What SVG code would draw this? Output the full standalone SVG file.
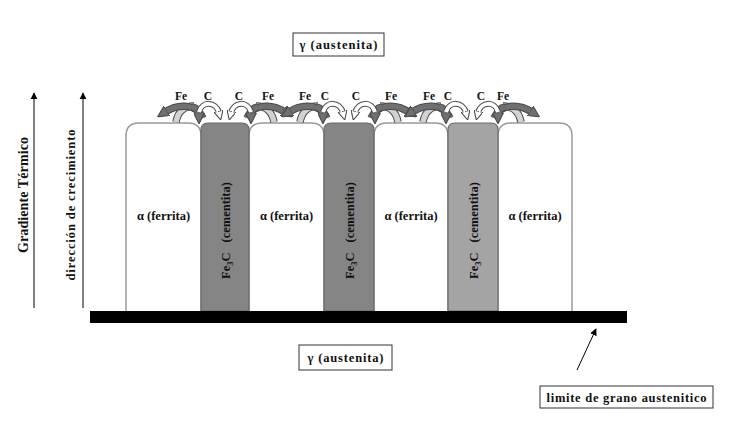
<svg xmlns="http://www.w3.org/2000/svg" xmlns:xlink="http://www.w3.org/1999/xlink" width="743" height="425" viewBox="0 0 743 425">
<style>
text{font-family:"Liberation Serif","Times New Roman",serif;font-weight:bold;fill:#111}
.lbl{font-size:12.5px}
.sm{font-size:11.5px}
.fer{fill:#fff;stroke:#9a9a9a;stroke-width:1.5}
.cem{stroke:#6a6a6a;stroke-width:1.2}
.ol{fill:none;stroke:#4a4a4a;stroke-width:7.5}
.olw{fill:none;stroke:#4a4a4a;stroke-width:6}
.fe{fill:none;stroke:#707070;stroke-width:5.5}
.lg{fill:none;stroke:#d2d2d2;stroke-width:5.5}
.wh{fill:none;stroke:#fff;stroke-width:4}
.box{fill:#fff;stroke:#333;stroke-width:1}
.axis{fill:none;stroke:#000;stroke-width:1}
</style>
<defs>
<marker id="mD" viewBox="0 0 10 10" refX="2" refY="5" markerWidth="11" markerHeight="11" markerUnits="userSpaceOnUse" orient="auto"><path d="M0,0 L10,5 L0,10 z" fill="#707070" stroke="#4a4a4a" stroke-width="1"/></marker>
<marker id="mW" viewBox="0 0 10 10" refX="2" refY="5" markerWidth="9" markerHeight="9" markerUnits="userSpaceOnUse" orient="auto"><path d="M0,0 L10,5 L0,10 z" fill="#fff" stroke="#4a4a4a" stroke-width="1.2"/></marker>
<marker id="mB" viewBox="0 0 10 10" refX="9" refY="5" markerWidth="7" markerHeight="8" markerUnits="userSpaceOnUse" orient="auto"><path d="M0,0 L10,5 L0,10 z" fill="#000"/></marker>
<g id="half">
<path class="ol" d="M-49,122 C-47,111 -40,106 -31,106"/>
<path class="lg" d="M-49,122 C-47,111 -40,106 -31,106"/>
<path class="ol" d="M-22,118 C-28,104 -46,103 -60,112"/>
<path class="fe" d="M-22,118 C-28,104 -46,103 -60,112" marker-end="url(#mD)"/>
<path class="ol" d="M-33,107 C-28,108 -26,111 -26,115"/>
<path class="fe" d="M-33,107 C-28,108 -26,111 -26,115" marker-end="url(#mD)"/>
<path class="olw" d="M-26,112 C-23,101 -9,101 -6,113"/>
<path class="wh" d="M-26,112 C-23,101 -9,101 -6,113" marker-end="url(#mW)"/>
</g>
</defs>

<g id="ferrita-1"><path class="fer" d="M126,311 V136 Q126,123 139,123 H188 Q201,123 201,136 V311"/><text class="lbl" x="163.5" y="220" text-anchor="middle">α (ferrita)</text></g>
<g id="ferrita-2"><path class="fer" d="M249,311 V136 Q249,123 262,123 H311 Q324,123 324,136 V311"/><text class="lbl" x="286.5" y="220" text-anchor="middle">α (ferrita)</text></g>
<g id="ferrita-3"><path class="fer" d="M374,311 V136 Q374,123 387,123 H435 Q448,123 448,136 V311"/><text class="lbl" x="411" y="220" text-anchor="middle">α (ferrita)</text></g>
<g id="ferrita-4"><path class="fer" d="M498,311 V136 Q498,123 511,123 H559 Q572,123 572,136 V311"/><text class="lbl" x="535" y="220" text-anchor="middle">α (ferrita)</text></g>

<g id="cementita-1"><path class="cem" fill="#858585" d="M201,311 V130 Q201,123 208,123 H242 Q249,123 249,130 V311 Z"/><text class="lbl" transform="translate(229.5,279) rotate(-90)">Fe<tspan font-size="8.5" dy="3">3</tspan><tspan dy="-3">C</tspan><tspan dx="10">(cementita)</tspan></text></g>
<g id="cementita-2"><path class="cem" fill="#858585" d="M324,311 V130 Q324,123 331,123 H367 Q374,123 374,130 V311 Z"/><text class="lbl" transform="translate(353.5,279) rotate(-90)">Fe<tspan font-size="8.5" dy="3">3</tspan><tspan dy="-3">C</tspan><tspan dx="10">(cementita)</tspan></text></g>
<g id="cementita-3"><path class="cem" fill="#a4a4a4" d="M448,311 V130 Q448,123 455,123 H491 Q498,123 498,130 V311 Z"/><text class="lbl" transform="translate(477.5,279) rotate(-90)">Fe<tspan font-size="8.5" dy="3">3</tspan><tspan dy="-3">C</tspan><tspan dx="10">(cementita)</tspan></text></g>

<g id="limite-grano-bar"><rect x="90" y="311" width="537" height="12" fill="#000"/></g>

<g id="difusion">
<use xlink:href="#half" transform="translate(225,0)"/>
<use xlink:href="#half" transform="translate(225,0) scale(-1,1)"/>
<use xlink:href="#half" transform="translate(349,0)"/>
<use xlink:href="#half" transform="translate(349,0) scale(-1,1)"/>
<use xlink:href="#half" transform="translate(472,0)"/>
<use xlink:href="#half" transform="translate(472,0) scale(-1,1)"/>
<g class="sm" text-anchor="middle">
<text x="181" y="100">Fe</text><text x="208" y="100">C</text><text x="239" y="100">C</text><text x="268" y="100">Fe</text>
<text x="305" y="100">Fe</text><text x="325" y="100">C</text><text x="356" y="100">C</text><text x="391" y="100">Fe</text>
<text x="429" y="100">Fe</text><text x="448" y="100">C</text><text x="481" y="100">C</text><text x="503" y="100">Fe</text>
</g>
</g>

<g id="austenita-top"><rect class="box" x="293" y="33" width="91" height="23"/><text class="lbl" x="338.5" y="49" text-anchor="middle" textLength="78">γ (austenita)</text></g>
<g id="austenita-bottom"><rect class="box" x="299" y="345" width="93" height="25"/><text class="lbl" x="345.5" y="362" text-anchor="middle" textLength="76">γ (austenita)</text></g>
<g id="limite-label"><rect class="box" x="540" y="386" width="173" height="22"/><text class="lbl" x="626.5" y="402" text-anchor="middle" textLength="160">limite de grano austenitico</text></g>

<g id="gradiente"><text transform="translate(27.5,195) rotate(-90)" font-size="14" text-anchor="middle" textLength="116">Gradiente Térmico</text></g>
<g id="direccion"><text transform="translate(74.5,205) rotate(-90)" font-size="12.5" text-anchor="middle" textLength="151">dirección de crecimiento</text></g>

<g id="connectors">
<line class="axis" x1="34" y1="308" x2="34" y2="93" marker-end="url(#mB)"/>
<line class="axis" x1="83" y1="308" x2="83" y2="93" marker-end="url(#mB)"/>
<line class="axis" x1="577" y1="370" x2="596" y2="329" marker-end="url(#mB)"/>
</g>
</svg>
